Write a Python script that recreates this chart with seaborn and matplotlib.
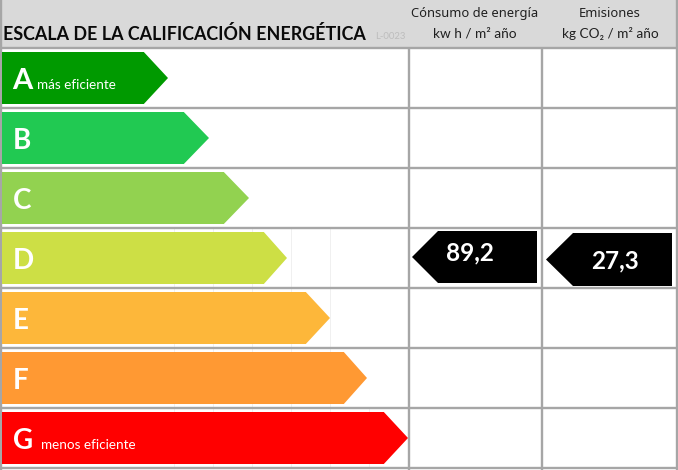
import matplotlib
matplotlib.use("Agg")
import matplotlib.pyplot as plt
import seaborn as sns
import pandas as pd

# ---- data (pixel-scale lengths of the rating arrows)
letters = ["A", "B", "C", "D", "E", "F", "G"]
shoulders = [144, 184, 224, 264, 306, 344, 384]
tips = [168, 209, 249, 287, 330, 367, 408]
colors = ["#009A00", "#21C952", "#92D250", "#CDDF45", "#FDB73A", "#FF9933", "#FF0000"]
notes = {"A": "más eficiente", "G": "menos eficiente"}
title = "ESCALA DE LA CALIFICACIÓN ENERGÉTICA"
code = "L-0023"
col_heads = [("Cónsumo de energía", "kw h / m² año"), ("Emisiones", "kg CO₂ / m² año")]
col_values = ["89,2", "27,3"]

sns.set_theme(style="white")
plt.rcParams["font.family"] = ["Lato", "DejaVu Sans"]

GRID = "#A6A6A6"
fig = plt.figure(figsize=(6.78, 4.70), dpi=100, facecolor="white")
ax = fig.add_axes([0, 0, 1, 1])

df = pd.DataFrame({"letter": letters, "shoulder": shoulders})
LEFT = 2
sns.barplot(data=df.assign(w=df.shoulder - LEFT), x="w", y="letter", hue="letter",
            palette=colors, hue_order=letters, order=letters, legend=False,
            saturation=1, width=0.86, left=LEFT, linewidth=0, ax=ax, zorder=3)

PITCH = 60.0
ax.set_xlim(0, 678)
ax.set_ylim((470 - 78) / PITCH, -78 / PITCH)
ax.axis("off")
HALF = 0.43


def py(v):
    return (v - 78) / PITCH


# header band
ax.fill_between([0, 678], py(0), py(48), color="#D9D9D9", lw=0, zorder=1)

# faint worksheet gridlines
for x in [174, 213, 252, 291, 330, 369]:
    y0 = 228 if x < 369 else 408
    ax.plot([x, x], [py(y0), py(468)], color="#F0F0F0", lw=0.7, zorder=1)

# table rules
for y in [48, 108, 168, 228, 288, 348, 408, 468]:
    ax.plot([0, 678], [py(y), py(y)], color=GRID, lw=1.7, zorder=2, solid_capstyle="butt")
for x, y0 in [(408.7, 48), (542, 48), (676.5, 0), (0.7, 0)]:
    ax.plot([x, x], [py(y0), py(470)], color=GRID, lw=1.7, zorder=2, solid_capstyle="butt")

# arrow heads
for i, (s, t, c, l) in enumerate(zip(shoulders, tips, colors, letters)):
    ax.fill([s, t, s], [i - HALF, i, i + HALF], color=c, lw=0, zorder=3)
    size = 21 if l == "A" else 20
    ax.text(12.5, i + 0.05, l, color="white", fontweight="bold", fontsize=size,
            va="center", ha="left", zorder=4)
    if l in notes:
        ax.text(37 if l == "A" else 41, i + 0.12, notes[l], color="white", fontsize=9.7,
                va="center", ha="left", zorder=4)

# headers
ax.text(3, py(34), title, fontsize=12.9, fontweight="bold", color="#0A0A0A", va="center", ha="left", zorder=4)
ax.text(375, py(37), code, fontsize=6.8, color="#BDBDBD", va="center", ha="left", zorder=4)
for cx, (a, b) in zip([475, 610], col_heads):
    ax.text(cx, py(13.5), a, fontsize=9.3, color="#202020", family=["Noto Sans", "DejaVu Sans"],
            va="center", ha="center", zorder=4)
    ax.text(cx, py(33.5), b, fontsize=9.8, color="#202020", family=["Lato", "Noto Sans", "DejaVu Sans"],
            va="center", ha="center", zorder=4)

# value tags
geo = [(412, 438, 537, 231, 283, 470, 253), (546, 573, 672, 233, 286, 615, 261)]
for (tip, sh, right, top, bot, tx, ty), val in zip(geo, col_values):
    mid = (top + bot) / 2
    ax.fill([tip, sh, right, right, sh], [py(mid), py(top), py(top), py(bot), py(bot)],
            color="black", lw=0, zorder=3)
    ax.text(tx, py(ty), val, color="white", fontweight="bold", fontsize=17.5,
            va="center", ha="center", zorder=4)

fig.savefig("out.png", dpi=100)
